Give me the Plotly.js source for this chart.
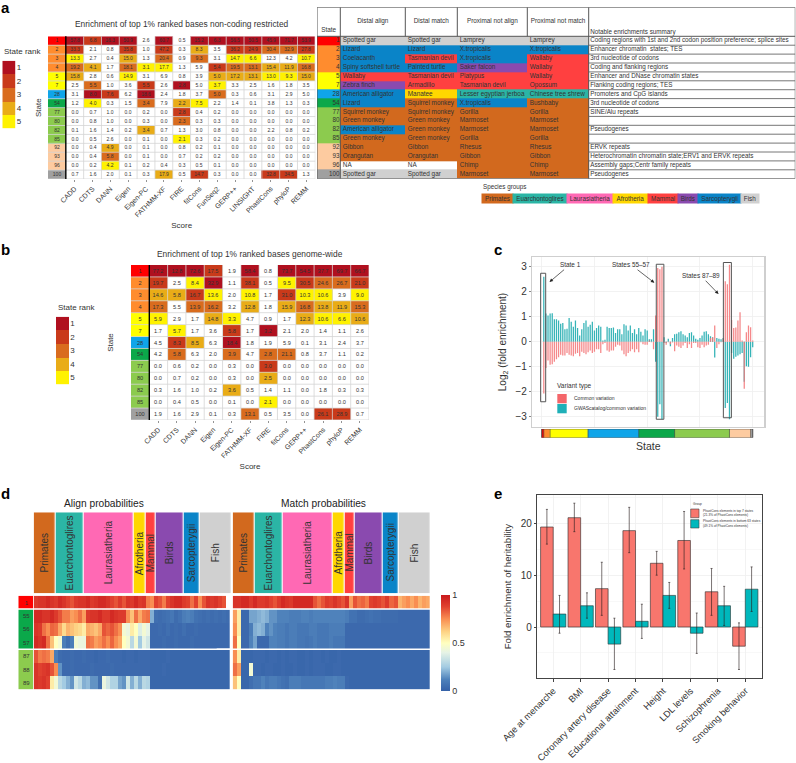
<!DOCTYPE html>
<html><head><meta charset="utf-8">
<script src="https://cdn.plot.ly/plotly-3.0.1.min.js"></script>
<style>html,body{margin:0;padding:0;background:#fff}</style></head>
<body><div id="chart" style="width:796px;height:763px"></div>
<script>
// ---------- DATA ----------
const rankColors=['#ffffff','#B0101F','#C93A1A','#D96C1E','#E9AC17','#FFF200'];
const stateColors=['#FF0000','#FF8C2E','#FFFF00','#0FA5E9','#0BA84A','#8CCB4E','#FDCBA0','#A0A0A0'];
const groupNames=['Primates','Euarchontoglires','Laurasiatheria','Afrotheria','Mammal','Birds','Sarcopterygii','Fish'];
const groupColors=['#D2691E','#2BB5A5','#FF69B4','#FFD700','#FF4040','#8A4AAF','#0A84C8','#D0D0D0'];

const scoresA=['CADD','CDTS','DANN','Eigen','Eigen-PC','FATHMM-XF','FIRE','fitCons','FunSeq2','GERP++','LINSIGHT','PhastCons','phyloP','REMM'];
const statesA=['1','2','3','4','5','7','28','54','77','80','82','85','92','93','96','100'];
const stateClassA=[0,1,1,1,2,2,3,4,5,5,5,5,6,6,6,7];
const valuesA=[
[57.8,6.8,16.3,50.9,2.6,60.7,0.5,15.2,6.3,56.5,50.5,45.9,71.7,53.9],
[33.3,2.1,0.8,35.8,1.0,47.2,0.3,8.3,3.5,36.2,24.9,30.4,32.9,27.8],
[13.3,2.7,0.4,15.0,1.3,20.4,0.9,9.3,3.1,14.7,6.6,12.3,4.2,10.7],
[19.2,4.1,1.7,18.1,3.1,17.7,1.3,5.9,5.4,19.5,13.1,15.4,11.9,16.8],
[15.8,2.8,0.6,14.9,3.1,6.9,0.8,3.9,5.0,17.2,13.1,13.0,9.3,15.0],
[2.5,5.5,1.0,3.6,5.5,2.6,2.8,5.0,3.7,3.3,2.5,1.6,1.8,3.5],
[3.1,8.0,7.6,6.2,18.6,2.4,1.8,3.7,5.0,0.3,0.6,3.1,2.9,5.0],
[1.2,4.0,0.3,1.5,3.4,7.9,2.2,7.5,2.2,1.4,0.1,3.8,1.3,0.3],
[0.0,0.7,1.0,0.0,0.2,0.0,2.8,0.4,0.2,0.0,0.0,0.0,0.0,0.0],
[0.0,0.8,1.0,0.0,0.3,0.0,2.3,0.3,0.3,0.0,0.0,0.0,0.0,0.0],
[0.1,1.6,1.4,0.2,3.4,0.7,1.3,3.0,0.8,0.0,0.0,2.2,0.8,0.2],
[0.0,0.5,2.6,0.0,0.1,0.0,2.1,0.3,0.2,0.0,0.0,0.0,0.0,0.0],
[0.0,0.4,4.9,0.0,0.1,0.0,0.8,0.2,0.1,0.0,0.0,0.0,0.0,0.0],
[0.0,0.4,5.8,0.0,0.1,0.0,0.7,0.2,0.2,0.0,0.0,0.0,0.0,0.0],
[0.0,0.2,4.2,0.1,0.2,0.4,0.3,0.5,0.1,0.0,0.0,0.0,0.0,0.0],
[0.7,1.6,2.0,0.1,0.3,17.9,0.5,14.7,0.3,0.0,0.0,32.8,34.5,1.3]];
const ranksA=[
[1,2,1,1,0,1,0,1,1,1,1,1,1,1],
[2,0,0,2,0,2,0,4,0,2,2,3,3,2],
[5,0,0,4,0,3,0,3,0,5,5,0,0,5],
[3,4,0,3,5,5,0,0,2,3,3,4,4,3],
[4,0,0,5,0,0,0,0,4,4,4,5,5,4],
[0,3,0,0,2,0,1,0,5,0,0,0,0,0],
[0,1,2,0,1,0,0,0,3,0,0,0,0,0],
[0,5,0,0,3,0,4,5,0,0,0,0,0,0],
[0,0,0,0,0,0,2,0,0,0,0,0,0,0],
[0,0,0,0,0,0,3,0,0,0,0,0,0,0],
[0,0,0,0,4,0,0,0,0,0,0,0,0,0],
[0,0,0,0,0,0,5,0,0,0,0,0,0,0],
[0,0,4,0,0,0,0,0,0,0,0,0,0,0],
[0,0,3,0,0,0,0,0,0,0,0,0,0,0],
[0,0,5,0,0,0,0,0,0,0,0,0,0,0],
[0,0,0,0,0,4,0,2,0,0,0,2,2,0]];

const tableHeaders=['Distal align','Distal match','Proximal not align','Proximal not match'];
const distalAlign=['Spotted gar','Lizard','Coelacanth','Spiny softshell turtle','Wallaby','Zebra finch','American alligator','Lizard','Squirrel monkey','Green monkey','American alligator','Green monkey','Gibbon','Orangutan','NA','Spotted gar'];
const distalAlignGroup=[8,7,7,7,5,6,7,7,1,1,7,1,1,1,0,8];
const distalMatch=['Spotted gar','Lizard','Tasmanian devil','Painted turtle','Tasmanian devil','Armadillo','Manatee','Squirrel monkey','Squirrel monkey','Green monkey','Green monkey','Green monkey','Gibbon','Orangutan','NA','Spotted gar'];
const distalMatchGroup=[8,7,5,7,5,5,4,1,1,1,1,1,1,1,0,8];
const proximalAlign=['Lamprey','X.tropicalis','X.tropicalis','Saker falcon','Platypus','Tasmanian devil','Lesser egyptian jerboa','X.tropicalis','Gorilla','Marmoset','Marmoset','Gorilla','Rhesus','Gibbon','Chimp','Marmoset'];
const proximalAlignGroup=[8,7,7,6,5,5,2,7,1,1,1,1,1,1,1,1];
const proximalMatch=['Lamprey','X.tropicalis','Wallaby','Wallaby','Wallaby','Opossum','Chinese tree shrew','Bushbaby','Gorilla','Marmoset','Marmoset','Gorilla','Rhesus','Gibbon','Chimp','Marmoset'];
const proximalMatchGroup=[8,7,5,5,5,5,2,1,1,1,1,1,1,1,1,1];
const notableSummary=['Coding regions with 1st and 2nd codon position preference; splice sites','Enhancer chromatin  states; TES','3rd nucleotide of codons','Coding and flanking regions','Enhancer and DNase chromatin states','Flanking coding regions; TES','Promoters and CpG islands','3rd nucleotide of codons','SINE/Alu repeats','','Pseudogenes','','ERVK repeats','Heterochromatin chromatin state;ERV1 and ERVK repeats','Assembly gaps;Centr family repeats','Pseudogenes'];

const scoresB=['CADD','CDTS','DANN','Eigen','Eigen-PC','FATHMM-XF','FIRE','fitCons','GERP++','PhastCons','phyloP','REMM'];
const statesB=['1','2','3','4','5','7','28','54','77','80','82','85','100'];
const stateClassB=[0,1,1,1,2,2,3,4,5,5,5,5,7];
const valuesB=[
[77.2,12.8,72.6,17.5,1.9,58.4,0.8,73.7,54.5,37.7,69.7,66.7],
[19.7,2.5,8.4,32.9,1.1,38.1,0.5,9.5,30.5,24.6,26.7,21.0],
[14.6,5.8,16.7,13.6,2.0,10.8,1.7,31.0,10.3,10.6,3.9,9.0],
[17.3,5.5,13.9,16.2,3.2,12.8,1.8,15.9,16.8,13.8,11.9,15.3],
[5.9,2.9,1.7,14.8,3.3,4.7,0.9,1.7,12.3,10.6,6.6,10.6],
[1.7,5.7,1.7,3.6,5.8,1.7,3.2,2.1,2.0,1.4,1.1,2.6],
[4.5,8.3,8.5,6.3,18.4,1.8,1.9,5.9,0.1,3.1,2.4,3.7],
[4.2,5.8,6.3,2.0,3.9,4.7,2.8,21.1,0.8,3.7,1.1,0.2],
[0.0,0.6,0.2,0.0,0.3,0.0,3.0,0.0,0.0,0.0,0.0,0.0],
[0.0,0.7,0.2,0.0,0.3,0.0,2.5,0.0,0.0,0.0,0.0,0.0],
[0.3,1.6,1.0,0.2,3.6,0.5,1.4,1.1,0.0,1.8,0.3,0.3],
[0.0,0.4,0.5,0.0,0.1,0.0,2.1,0.0,0.0,0.0,0.0,0.0],
[1.9,1.6,2.9,0.1,0.3,13.1,0.5,3.5,0.0,26.1,28.9,0.7]];
const ranksB=[
[1,1,1,2,0,1,0,1,1,1,1,1],
[2,0,5,1,0,2,0,5,2,3,3,2],
[4,4,2,5,0,5,0,2,5,5,0,5],
[3,0,3,3,0,4,0,4,3,4,4,3],
[5,0,0,4,5,0,0,0,4,5,5,4],
[0,5,0,0,2,0,1,0,0,0,0,0],
[0,2,4,0,1,0,0,0,0,0,0,0],
[0,3,0,0,3,0,3,3,0,0,0,0],
[0,0,0,0,0,0,2,0,0,0,0,0],
[0,0,0,0,0,0,4,0,0,0,0,0],
[0,0,0,0,4,0,0,0,0,0,0,0],
[0,0,0,0,0,0,5,0,0,0,0,0],
[0,0,0,0,0,3,0,0,0,2,2,0]];

const cStates=[1,2,3,4,5,6,7,8,9,10,11,12,13,14,15,16,17,18,19,20,21,22,23,24,25,26,27,28,29,30,31,32,33,34,35,36,37,38,39,40,41,42,43,44,45,46,47,48,49,50,51,52,53,54,55,56,57,58,59,60,61,62,63,64,65,66,67,68,69,70,71,72,73,74,75,76,77,78,79,80,81,82,83,84,85,86,87,88,89,90,91,92,93,94,95,96,97,98,99,100];
const commonVariation=[-2.07,-1.05,-0.75,-0.92,-0.9,-0.8,-0.7,-0.62,-0.52,-0.55,-0.55,-0.45,-0.52,-0.55,-0.58,-0.48,-0.45,-0.58,-0.4,-0.45,-0.5,-0.42,-0.35,-0.45,-0.4,-0.3,-0.3,-0.45,-0.1,-0.05,-0.35,-0.4,-0.35,-0.35,-0.2,-0.12,-0.15,-0.35,-0.5,-0.58,-0.45,-0.38,-0.3,-0.42,-0.3,-0.42,-0.02,-0.1,-0.12,-0.12,0.05,-0.02,-0.3,1.05,2.95,2.9,3.0,-0.05,-0.12,-0.02,-0.1,-0.03,-0.38,-0.15,-0.2,-0.25,-0.15,-0.05,-0.25,-0.1,-0.25,-0.05,-0.05,-0.22,-0.25,-0.12,-0.22,-0.15,-0.12,0.15,0.18,0.65,-0.25,-0.1,-0.02,0.12,2.42,2.3,3.08,0.87,0.55,0.57,0.85,1.18,0.05,-1.88,0.38,0.65,0.58,0.05];
const gwasVariation=[2.6,1.13,1.05,1.13,1.14,0.9,0.9,0.85,0.72,0.75,0.5,0.52,0.95,0.8,0.6,0.85,0.55,0.25,0.5,0.75,0.85,0.6,0.68,0.8,0.45,0.55,0.65,0.6,0.05,0.08,0.6,0.55,0.55,0.57,0.35,0.5,0.5,0.3,0.7,0.65,0.45,0.65,0.35,0.5,0.3,0.55,0.4,0.25,0.5,0.45,0.1,0.1,0.5,-0.8,-3.0,-2.5,-3.1,0.18,-0.05,0.12,-0.18,0.15,0.3,0.32,0.38,0.42,0.3,0.25,0.18,0.35,0.38,0.25,0.12,0.08,0.15,0.25,0.4,0.42,0.3,0.22,0.18,-0.63,0.15,0.12,0.1,0.15,-2.65,-2.45,-3.1,-0.45,-0.68,-0.6,-0.55,-0.5,-0.45,-1.6,-0.98,-1.0,-0.62,-0.22];
const stateClassCounts=[1,3,18,24,17,26,10,1];

const dRows=['1','55','56','57','87','88','89'];
const dRowClass=[0,4,4,4,5,5,5];
const speciesPerGroup=[11,14,25,6,5,14,8,16];
const alignState1=[.9,.92,.92,.95,.92,.9,.95,.92,.88,.85,.9,.92,.92,.95,.9,.92,.95,.95,.92,.88,.85,.9,.85,.92,.9,.95,.9,.92,.78,.75,.88,.85,.78,.88,.92,.95,.95,.9,.88,.8,.88,.75,.85,.92,.9,.92,.88,.85,null];
const alignState55=[.95,.95,.92,.92,.95,.9,.85,.78,.78,.72,.75,.8,.72,.9,.92,.92,.95,.9,.9,.95,.92,.9,.9,.75,.65,.8,.7,.78,.8,.2,.05,.04,.05,.06,.08,.04,.06,.1,.12,.1,.06,.05,.04,.05,.04,.05,.04,.05,.04];
const alignState56=[.92,.9,.8,.75,.82,.8,.7,.6,.68,.65,.62,.6,.55,.7,.68,.65,.7,.85,.82,.85,.8,.75,.45,.42,.55,.5,.38,.45,.4,.03,.03,.04,.03,.05,.03,.04,.03,.05,.03,.03,.04,.03,.03,.03,.03,.03,.03,.03,.03];
const alignState57=[.95,.92,.95,.8,.65,.5,.45,.1,.05,.1,.45,.42,.42,.8,.78,.72,.75,.8,.75,.82,.75,.7,.5,.45,.3,.45,.25,.4,.35,.03,.03,.03,.04,.03,.03,.04,.03,.03,.03,.04,.03,.03,.03,.03,.03,.03,.03,.03,.03];
const alignState87=[.85,.78,.8,.78,.7,.1,.04,.03,.03,.04,.03,.03,.04,.03,.03,.02,.03,.03,.04,.03,.03,.03,.02,.03,.03,.02,.03,.03,.03,.02,.02,.02,.02,.03,.02,.02,.02,.02,.02,.02,.02,.02,.02,.02,.02,.02,.02,.02,.02];
const alignState88=[.92,.88,.9,.92,.85,.75,.15,.03,.03,.04,.03,.03,.03,.03,.04,.03,.03,.03,.03,.04,.03,.03,.03,.03,.03,.03,.03,.03,.03,.02,.02,.02,.03,.02,.02,.02,.02,.02,.02,.02,.02,.02,.02,.02,.02,.02,.02,.02,.02];
const alignState89=[.92,.9,.92,.88,.55,.45,.3,.25,.2,.15,.35,.3,.2,.22,.15,.15,.05,.42,.35,.28,.28,.18,.15,.35,.2,.3,.2,.3,.28,.02,.02,.02,.02,.02,.02,.02,.02,.02,.02,.02,.02,.02,.02,.02,.02,.02,.02,.02,.02];
const matchState1=[.92,.92,.95,.95,.9,.95,.9,.9,.92,.88,.85,.9,.95,.92,.9,.95,.95,.95,.95,.95,.85,.8,.85,.9,.88,.92,.88,.85,.92,.72,.85,.8,.82,.78,.88,.9,.88,.85,.9,.82,.85,.68,.72,.75,.7,.75,.68,.72,.7];
const matchState55=[.72,.55,.03,.03,.18,.18,.2,.22,.2,.15,.15,.12,.12,.12,.1,.1,.1,.12,.12,.1,.12,.12,.12,.12,.12,.12,.12,.12,.1,.06,.06,.04,.04,.05,.06,.05,.05,.04,.04,.04,.04,.03,.03,.03,.03,.03,.03,.03,.03];
const matchState56=[.75,.55,.03,.03,.1,.2,.22,.2,.12,.15,.12,.1,.1,.08,.1,.1,.08,.08,.08,.1,.1,.08,.08,.08,.1,.1,.1,.1,.03,.03,.03,.03,.03,.03,.03,.03,.03,.03,.03,.03,.03,.03,.03,.03,.03,.03,.03,.03,.03];
const matchState57=[.8,.5,.03,.03,.12,.18,.03,.03,.03,.12,.12,.1,.1,.08,.1,.1,.08,.08,.07,.08,.1,.08,.08,.08,.1,.08,.08,.08,.03,.03,.03,.03,.03,.03,.03,.03,.03,.03,.03,.03,.03,.03,.03,.03,.03,.03,.03,.03,.03];
const matchState87=[.75,.55,.02,.02,.02,.03,.03,.03,.02,.03,.03,.02,.03,.02,.03,.03,.02,.02,.03,.02,.03,.03,.02,.03,.02,.02,.03,.02,.02,.02,.02,.02,.02,.02,.02,.02,.02,.02,.02,.02,.02,.02,.02,.02,.02,.02,.02,.02,.02];
const matchState88=[.8,.72,.02,.02,.45,.03,.03,.02,.03,.03,.02,.02,.03,.02,.02,.03,.02,.02,.03,.02,.03,.03,.03,.02,.02,.03,.03,.02,.02,.02,.02,.02,.02,.02,.02,.02,.02,.02,.02,.02,.02,.02,.02,.02,.02,.02,.02,.02,.02];
const matchState89=[.65,.5,.02,.02,.05,.08,.08,.12,.08,.1,.1,.08,.06,.05,.1,.1,.1,.08,.08,.08,.08,.08,.08,.1,.1,.12,.1,.1,.03,.02,.02,.02,.02,.02,.02,.02,.02,.02,.02,.02,.02,.02,.02,.02,.02,.02,.02,.02,.02];

const traits=['Age at menarche','BMI','Coronary artery disease','Educational attainment','Height','LDL levels','Schizophrenia','Smoking behavior'];
const top7=[19.3,21.1,7.4,18.6,12.3,16.7,6.8,-3.7];
const top7Hi=[22.7,23.9,12.5,23.1,14.6,22.3,11.3,0.8];
const top7Lo=[16.0,18.4,2.25,14.35,10.0,11.2,2.25,-8.2];
const bottom63=[2.5,4.1,-3.3,1.1,6.1,-1.2,4.1,7.3];
const bottom63Hi=[6.1,6.6,1.7,4.4,8.6,2.7,7.85,11.6];
const bottom63Lo=[-1.2,1.7,-8.2,-2.2,3.6,-5.1,0.3,3.0];

// ---------- HELPERS ----------
const W=796,H=763,FONT='Liberation Sans, Arial, sans-serif',INK='#333';
const xd=(a,b)=>[a/W,b/W], yd=(a,b)=>[1-b/H,1-a/H];
const hidden={visible:false,fixedrange:true};
function discrete(cols){const n=cols.length,s=[];cols.forEach((c,i)=>{s.push([i/n,c]);s.push([(i+1)/n,c]);});return s;}
const annotations=[],shapes=[],data=[];
function note(text,px,py,o){annotations.push(Object.assign({text,x:px/W,y:1-py/H,xref:'paper',yref:'paper',showarrow:false,xanchor:'center',yanchor:'middle',font:{size:8,color:INK}},o||{}));}
function cat(cols,z,x,y,xa,ya,extra){data.push(Object.assign({type:'heatmap',x,y,z,xaxis:xa,yaxis:ya,colorscale:discrete(cols),zmin:-0.5,zmax:cols.length-0.5,showscale:false,hoverinfo:'skip'},extra||{}));}

const layout={width:W,height:H,margin:{l:0,r:0,t:0,b:0},autosize:false,paper_bgcolor:'#fff',plot_bgcolor:'#fff',
 font:{family:FONT,color:INK},showlegend:false,barmode:'group',bargap:0.08,bargroupgap:0};

// panel letters
[['a',5,8],['b',5,250],['c',498,250],['d',5,493],['e',498,493]].forEach(p=>note(p[0],p[1],p[2],{font:{size:15,color:'#000',family:FONT,weight:700}}));

// ---------- rank heat panels ----------
function rankPanel(n,states,stClass,scores,vals,ranks,dx,dy,titleText,titleY,fs,tickFs,scoreStandoff,stateStandoff){
 const xa='x'+n,ya='y'+n,nc=scores.length+1,pos=scores.map((_,i)=>i+1);
 layout['xaxis'+n]={domain:xd(dx[0],dx[1]),anchor:ya,type:'linear',range:[-0.5,nc-0.5],
  tickmode:'array',tickvals:pos,ticktext:scores,tickangle:-45,tickfont:{size:tickFs,color:INK},ticks:'outside',ticklen:2,tickcolor:'#666',tickwidth:.7,showgrid:false,zeroline:false,showline:false,
  title:{text:'Score',font:{size:8,color:INK},standoff:scoreStandoff}};
 layout['yaxis'+n]={domain:yd(dy[0],dy[1]),anchor:xa,type:'category',categoryorder:'array',categoryarray:states,range:[states.length-0.5,-0.5],
  showticklabels:false,ticks:'',showgrid:false,zeroline:false,showline:false,title:{text:'State',font:{size:8,color:INK},standoff:stateStandoff}};
 cat(stateColors,stClass.map(c=>[c]),undefined,states,xa,ya,{x0:0,dx:1,text:states.map(s=>[s]),texttemplate:'%{text}',textfont:{size:fs,color:INK}});
 cat(rankColors,ranks,pos,states,xa,ya,{text:vals.map(r=>r.map(v=>v.toFixed(1))),texttemplate:'%{text}',textfont:{size:fs,color:INK}});
 const ny=states.length;
 for(let i=1;i<=ny;i++)shapes.push({type:'line',xref:xa+' domain',yref:ya,x0:0,x1:1,y0:i-0.5,y1:i-0.5,line:{color:'#d4d4d4',width:.8}});
 for(let j=2;j<=nc;j++)shapes.push({type:'line',xref:xa,yref:ya+' domain',x0:j-0.5,x1:j-0.5,y0:0,y1:1,line:{color:'#d4d4d4',width:.8}});
 shapes.push({type:'line',xref:xa,yref:ya+' domain',x0:0.5,x1:0.5,y0:0,y1:1,line:{color:'#000',width:1.4}});
 note(titleText,(dx[0]+dx[1])/2,titleY,{font:{size:8.4,color:INK}});
}
rankPanel('',statesA,stateClassA,scoresA,valuesA,ranksA,[48,315.3],[36.3,179],'Enrichment of top 1% ranked bases non-coding restricted',24.3,5,7,4,4);
rankPanel('4',statesB,stateClassB,scoresB,valuesB,ranksB,[131,369],[265,420],'Enrichment of top 1% ranked bases genome-wide',254.3,5.6,7,4,15);

// rank legends
function rankLegend(n,dx,dy,titleX,titleY){
 layout['xaxis'+n]=Object.assign({domain:xd(dx[0],dx[1]),anchor:'y'+n},hidden);
 const rk=['1','2','3','4','5'];
 layout['yaxis'+n]={domain:yd(dy[0],dy[1]),anchor:'x'+n,side:'right',type:'category',categoryorder:'array',categoryarray:rk,range:[4.5,-0.5],tickfont:{size:8,color:INK},ticks:'',ticklen:0,showgrid:false,zeroline:false,showline:false};
 cat(rankColors,[[1],[2],[3],[4],[5]],['r'],rk,'x'+n,'y'+n);
 note('State rank',titleX,titleY,{xanchor:'left',font:{size:8,color:INK}});
}
rankLegend('3',[2.3,15.7],[60.7,128.3],2,51);
rankLegend('5',[56,69.3],[316.7,384.3],56,307.7);

// ---------- table ----------
const tableEdges=[0,23.3,88.3,140.3,210.3,271.7,478.3];
const tablePalette=['#ffffff'].concat(groupColors,stateColors);
const tableRows=statesA.map((_,i)=>i);
layout.xaxis2=Object.assign({domain:xd(317,795.3),anchor:'y2',range:[0,478.3]},hidden);
layout.yaxis2=Object.assign({domain:yd(7.3,178.7),anchor:'x2',range:[15.5,-3.76]},hidden);
cat(tablePalette,statesA.map((_,i)=>[stateClassA[i]+9,distalAlignGroup[i],distalMatchGroup[i],proximalAlignGroup[i],proximalMatchGroup[i],0]),tableEdges,tableRows,'x2','y2');
function tableText(txt,x,y,pos,size){data.push({type:'scatter',mode:'text',x,y,text:txt,textposition:pos,textfont:{size,color:INK},xaxis:'x2',yaxis:'y2',cliponaxis:false,hoverinfo:'skip'});}
tableText(statesA,tableRows.map(()=>tableEdges[1]-0.8),tableRows,'middle left',6.3);
[distalAlign,distalMatch,proximalAlign,proximalMatch].forEach((col,k)=>tableText(col,tableRows.map(()=>tableEdges[k+1]+2.5),tableRows,'middle right',6.4));
const filledRows=tableRows.filter(i=>notableSummary[i]!=='');
tableText(filledRows.map(i=>notableSummary[i]),filledRows.map(()=>tableEdges[5]+1.5),filledRows,'middle right',6.3);
tableText(tableHeaders,[0,1,2,3].map(k=>(tableEdges[k+1]+tableEdges[k+2])/2),[-2.2,-2.2,-2.2,-2.2],'middle center',6.4);
tableText(['State'],[tableEdges[1]/2],[-1.15],'middle center',6.4);
tableText(['Notable enrichments summary'],[tableEdges[5]+1.5],[-0.98],'middle right',6.3);
const tl={color:'#555',width:1};
const rowY=[-3.76,-0.5,15.5];
tableEdges.forEach((e,k)=>{const full=(k<=1||k>=5);shapes.push({type:'line',xref:'x2',yref:'y2',x0:e,x1:e,y0:-3.76,y1:full?15.5:-0.5,line:tl});});
rowY.forEach(r=>shapes.push({type:'line',xref:'x2',yref:'y2',x0:0,x1:478.3,y0:r,y1:r,line:tl}));
for(let i=0;i<15;i++)shapes.push({type:'line',xref:'x2',yref:'y2',x0:tableEdges[5],x1:478.3,y0:i+0.5,y1:i+0.5,line:{color:'#666',width:.9}});
// species group legend
note('Species groups',481,187,{xanchor:'left',font:{size:6.3,color:INK}});
const sgEdges=[481,512,566,612,646.7,677,696.7,740,758];
groupNames.forEach((g,i)=>note(g,sgEdges[i],198.7,{xanchor:'left',width:sgEdges[i+1]-sgEdges[i],height:9.3,align:'center',valign:'middle',bgcolor:groupColors[i],borderpad:0,font:{size:6.3,color:INK}}));

// ---------- panel c ----------
layout.xaxis6={domain:xd(532.3,764.3),anchor:'y6',range:[-4.45,105.5],tickmode:'array',tickvals:[0,25,50,75,100],showticklabels:false,ticks:'',showgrid:true,gridcolor:'#efefef',gridwidth:.8,zeroline:false,mirror:true,showline:true,linecolor:'#cfcfcf',linewidth:1.4};
layout.yaxis6={domain:yd(257,427),anchor:'x6',range:[-3.41,3.39],tickmode:'array',tickvals:[-3,-2,-1,0,1,2,3],tickfont:{size:10,color:INK},ticks:'outside',ticklen:2,tickcolor:'#888',showgrid:true,gridcolor:'#efefef',gridwidth:.8,zeroline:false,mirror:true,showline:true,linecolor:'#cfcfcf',linewidth:1.4,
 title:{text:'Log<sub>2</sub> (fold enrichment)',font:{size:10,color:INK},standoff:7}};
data.push({type:'bar',name:'GWAScatalog/common variation',x:cStates,y:gwasVariation,marker:{color:'#2BB0B4',line:{width:0}},offset:-0.3,width:0.6,opacity:.95,xaxis:'x6',yaxis:'y6',hoverinfo:'skip'});
data.push({type:'bar',name:'Common variation',x:cStates,y:commonVariation,marker:{color:'#F4787A',line:{width:0}},offset:-0.3,width:0.6,opacity:.88,xaxis:'x6',yaxis:'y6',hoverinfo:'skip'});
[[-0.5,1.9,2.74,-2.4],[54.3,57.9,3.1,-3.1],[86.1,89.9,3.17,-3.04]].forEach(b=>shapes.push({type:'rect',xref:'x6',yref:'y6',x0:b[0],x1:b[1],y0:b[2],y1:b[3],line:{color:'#555',width:1},fillcolor:'rgba(0,0,0,0)'}));
[['State 1',3.7,2.39,20.5,-17.3],['States 55–57',53.4,2.36,-23.3,-18],['States 87–89',83.8,1.91,-17.7,-18.3]].forEach(a=>annotations.push({text:a[0],x:a[1],y:a[2],xref:'x6',yref:'y6',ax:a[3],ay:a[4],showarrow:true,arrowhead:2,arrowsize:1,arrowwidth:.7,arrowcolor:'#222',font:{size:6.4,color:INK}}));
note('Variant type',555,386,{xanchor:'left',font:{size:6.5,color:INK}});
[['Common variation','#F4666A',394,403.3,398],['GWAScatalog/common variation','#1FB0B8',404,413.3,408]].forEach(l=>{
 shapes.push({type:'rect',xref:'paper',yref:'paper',x0:557.3/W,x1:566.7/W,y0:1-l[2]/H,y1:1-l[3]/H,fillcolor:l[1],line:{width:0}});
 note(l[0],572,l[4],{xanchor:'left',font:{size:5,color:INK}});
});
// state strip
const stripEdges=stateClassCounts.reduce((acc,c)=>{acc.push(acc[acc.length-1]+c);return acc;},[0]);
layout.xaxis7={domain:xd(532.3,764.3),anchor:'y7',range:[-4.45,105.5],showticklabels:false,ticks:'',showgrid:false,zeroline:false,showline:false,title:{text:'State',font:{size:10.5,color:INK},standoff:4}};
layout.yaxis7=Object.assign({domain:yd(429,437.7),anchor:'x7',range:[0,1]},hidden);
cat(stateColors,[stateColors.map((_,i)=>i)],stripEdges,[0,1],'x7','y7');
stripEdges.forEach(e=>shapes.push({type:'line',xref:'x7',yref:'y7',x0:e,x1:e,y0:0,y1:1,line:{color:'#444',width:.6}}));
shapes.push({type:'rect',xref:'x7',yref:'y7',x0:0,x1:100,y0:0,y1:1,line:{color:'#444',width:.6},fillcolor:'rgba(0,0,0,0)'});

// ---------- panel d ----------
const groupEdges=speciesPerGroup.reduce((acc,c)=>{acc.push(acc[acc.length-1]+c);return acc;},[0]);
const probScale=[[0,'#3561a8'],[.12,'#4f82bb'],[.25,'#a3cbe2'],[.4,'#e6f3e6'],[.5,'#ffffbf'],[.62,'#fdd284'],[.75,'#f98e52'],[.88,'#e0412f'],[1,'#c9191c']];
function probPanel(nHead,nHeat,hx,heatX,z,title,titleX,bar){
 layout['xaxis'+nHead]=Object.assign({domain:xd(hx[0],hx[1]),anchor:'y'+nHead,range:[0,99]},hidden);
 layout['yaxis'+nHead]=Object.assign({domain:yd(512.3,593.3),anchor:'x'+nHead,range:[0,1]},hidden);
 cat(groupColors,[groupColors.map((_,i)=>i)],groupEdges,[0,1],'x'+nHead,'y'+nHead,{xgap:1.2});
 groupNames.forEach((g,i)=>annotations.push({text:g,x:(groupEdges[i]+groupEdges[i+1])/2,y:0.5,xref:'x'+nHead,yref:'y'+nHead,showarrow:false,textangle:-90,font:{size:10,color:INK}}));
 layout['xaxis'+nHeat]=Object.assign({domain:xd(heatX[0],heatX[1]),anchor:'y'+nHeat,type:'linear',range:[-0.5,48.5]},hidden);
 layout['yaxis'+nHeat]=Object.assign({domain:yd(595.7,689.3),anchor:'x'+nHeat,type:'category',categoryorder:'array',categoryarray:dRows,range:[6.5,-0.5]},hidden);
 const tr={type:'heatmap',z,y:dRows,xaxis:'x'+nHeat,yaxis:'y'+nHeat,colorscale:probScale,zmin:0,zmax:1,hoverinfo:'skip',showscale:!!bar};
 if(bar)tr.colorbar={x:441.3/W,xanchor:'left',y:1-690.7/H,yanchor:'bottom',thickness:9.4,thicknessmode:'pixels',len:95.7,lenmode:'pixels',xpad:0,ypad:0,outlinewidth:0,tickmode:'array',tickvals:[0,.5,1],ticktext:['0','0.5','1'],ticks:'',tickfont:{size:9,color:INK}};
 data.push(tr);
 [0.5,3.5].forEach(r=>shapes.push({type:'line',xref:'paper',yref:'y'+nHeat,x0:(heatX[0]-16)/W,x1:heatX[1]/W,y0:r,y1:r,line:{color:'#fff',width:1.4}}));
 note(title,titleX,503.7,{font:{size:10.2,color:'#222'}});
}
probPanel('8','10',[33.7,231.3],[33.7,230],[alignState1,alignState55,alignState56,alignState57,alignState87,alignState88,alignState89],'Align probabilities',104,false);
probPanel('11','12',[232.7,430.7],[232.7,430],[matchState1,matchState55,matchState56,matchState57,matchState87,matchState88,matchState89],'Match probabilities',323.3,true);
layout.xaxis9=Object.assign({domain:xd(18.3,33.3),anchor:'y9'},hidden);
layout.yaxis9=Object.assign({domain:yd(595.7,689.3),anchor:'x9',type:'category',categoryorder:'array',categoryarray:dRows,range:[6.5,-0.5]},hidden);
cat(stateColors,dRowClass.map(c=>[c]),['s'],dRows,'x9','y9',{text:dRows.map(s=>[s]),texttemplate:'%{text}',textfont:{size:6,color:INK}});

// ---------- panel e ----------
layout.xaxis13={domain:xd(537.3,762.3),anchor:'y13',type:'category',categoryorder:'array',categoryarray:traits,range:[-0.58,7.62],tickangle:-45,tickfont:{size:9.3,color:INK},ticks:'outside',ticklen:2.5,tickcolor:'#444',showgrid:true,gridcolor:'#efefef',gridwidth:.8,zeroline:false,mirror:true,showline:true,linecolor:'#444',linewidth:1};
layout.yaxis13={domain:yd(495,678.3),anchor:'x13',range:[-9.9,25.48],tickmode:'array',tickvals:[0,10,20],tickfont:{size:10,color:INK},ticks:'outside',ticklen:2.5,tickcolor:'#444',showgrid:true,gridcolor:'#efefef',gridwidth:.8,zeroline:false,mirror:true,showline:true,linecolor:'#444',linewidth:1,minor:{showgrid:true,tickvals:[-5,5,15,25],gridcolor:'#f4f4f4',gridwidth:.6},
 title:{text:'Fold enrichment of heritability',font:{size:9.6,color:INK},standoff:7}};
function err(v,hi,lo){return {type:'data',symmetric:false,array:hi.map((h,i)=>h-v[i]),arrayminus:lo.map((l,i)=>v[i]-l),color:'rgba(40,30,30,.62)',thickness:1,width:1};}
data.push({type:'bar',name:'PhastCons elements in top 7 states',x:traits,y:top7,marker:{color:'#F8766D',line:{color:'rgba(60,50,50,.65)',width:1}},error_y:err(top7,top7Hi,top7Lo),xaxis:'x13',yaxis:'y13',hoverinfo:'skip'});
data.push({type:'bar',name:'PhastCons elements in bottom 63 states',x:traits,y:bottom63,marker:{color:'#00B8BC',line:{color:'rgba(40,60,60,.65)',width:1}},error_y:err(bottom63,bottom63Hi,bottom63Lo),xaxis:'x13',yaxis:'y13',hoverinfo:'skip'});
note('Group',691,504.3,{xanchor:'left',font:{size:3.2,color:INK}});
[['PhastCons elements in top 7 states','(21.3% of PhastCons elements)','#F8766D',509,517.7,511,515],['PhastCons elements in bottom 63 states','(49.1% of PhastCons elements)','#00B8BC',519.7,528,521.3,525.7]].forEach(l=>{
 shapes.push({type:'rect',xref:'paper',yref:'paper',x0:690.7/W,x1:699/W,y0:1-l[3]/H,y1:1-l[4]/H,fillcolor:l[2],line:{color:'#444',width:.6}});
 note(l[0],701,l[5],{xanchor:'left',font:{size:3.2,color:INK}});
 note(l[1],701,l[6],{xanchor:'left',font:{size:3.2,color:INK}});
});

layout.annotations=annotations;
layout.shapes=shapes;
Plotly.newPlot('chart',data,layout,{displayModeBar:false,staticPlot:true});
</script></body></html>
